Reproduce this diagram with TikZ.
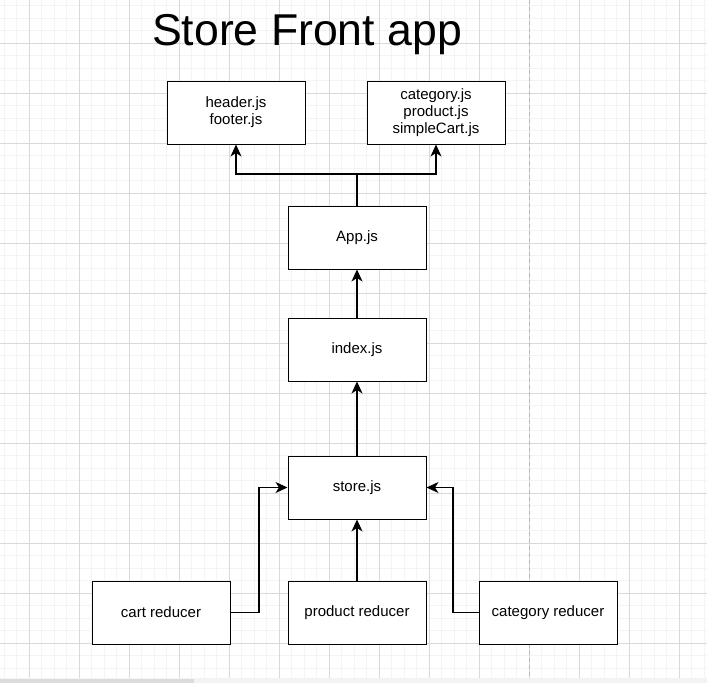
\documentclass[tikz,border=0pt]{standalone}
\usepackage{fontspec}
\setmainfont{Liberation Sans}
\usepackage{tikz}
\usetikzlibrary{arrows.meta}

\definecolor{gridminor}{HTML}{F4F4F4}
\definecolor{gridmajor}{HTML}{D9D9D9}
\definecolor{pageline}{HTML}{B8B8B8}
\definecolor{barlight}{HTML}{F2F3F5}
\definecolor{bardark}{HTML}{DCDCDE}

\begin{document}
\begin{tikzpicture}
	 [x=1pt,y=-1pt,
	  every node/.style={draw=black,line width=1pt,fill=white,minimum width=138pt,minimum height=63pt,align=center,inner sep=0pt,font=\fontsize{15}{17}\selectfont},
	  >={Stealth[length=12pt,width=11pt,inset=3.5pt]},
	  arr/.style={draw=black,line width=1.2pt,->}]
	\useasboundingbox (0,0) rectangle (707,683);

	% grid
	\foreach \x in {0,...,56}
	  \draw[gridminor,line width=1pt] (4.3+12.5*\x,0) -- (4.3+12.5*\x,678);
	\foreach \y in {0,...,54}
	  \draw[gridminor,line width=1pt] (0,5.8+12.5*\y) -- (707,5.8+12.5*\y);
	\foreach \x in {0,...,13}
	  \draw[gridmajor,line width=0.7pt] (29.3+50*\x,0) -- (29.3+50*\x,678);
	\foreach \y in {0,...,12}
	  \draw[gridmajor,line width=0.7pt] (0,43.3+50*\y) -- (707,43.3+50*\y);
	\draw[pageline,line width=0.9pt,dash pattern=on 4pt off 3pt] (529.3,0) -- (529.3,678);

	% scroll bar
	\fill[barlight] (0,678) rectangle (707,683);
	\fill[bardark] (0,678.5) rectangle (194,683);

	\node[draw=none,fill=none,minimum width=0pt,minimum height=0pt,anchor=base,font=\fontsize{44.6}{50}\selectfont] (title) at (307,45) {Store Front app};

	  \node (hdr) at (236,112.5) {header.js\\footer.js};
	  \node (cmp) at (436,112.5) {category.js\\product.js\\simpleCart.js};
	  \node (app) at (357,237.5) {App.js};
	  \node (idx) at (357,349.5) {index.js};
	  \node (store) at (357,487.5) {store.js};
	  \node (cartred) at (161,612.5) {cart reducer};
	  \node (prodred) at (357,612.5) {product reducer};
	  \node (catred) at (548,612.5) {category reducer};

	\coordinate (split) at (357,174);
	\coordinate (cartbend) at (259,612.5);
	\coordinate (catbend) at (453,612.5);

	\foreach \to in {hdr,cmp}
    \draw[arr] (app.north) -- (split) -| (\to.south);

	\foreach \from/\to in {idx/app,store/idx,prodred/store}
    \draw[arr] (\from.north) -- (\to.south);

    \draw[arr] (cartred.east) -- (cartbend) |- (store.west);
    \draw[arr] (catred.west) -- (catbend) |- (store.east);

\end{tikzpicture}
\end{document}
